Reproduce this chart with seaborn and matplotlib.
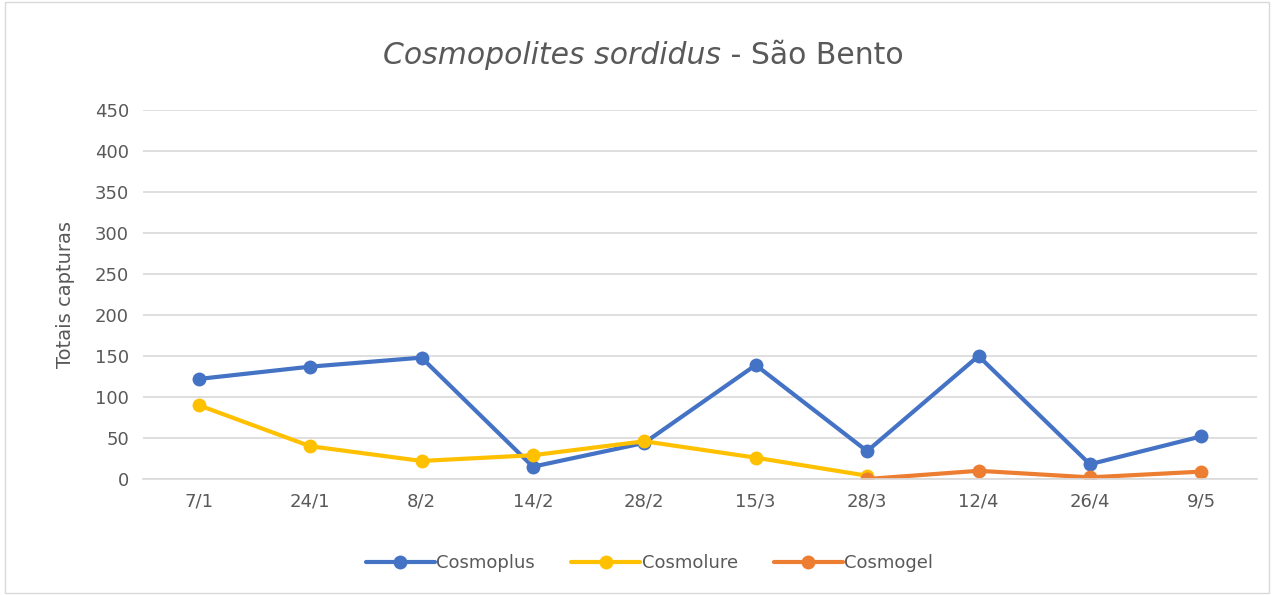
import matplotlib.pyplot as plt
import numpy as np
import pandas as pd
import seaborn as sns

dates = ['7/1', '24/1', '8/2', '14/2', '28/2', '15/3', '28/3', '12/4', '26/4', '9/5']
cosmoplus = [122, 137, 148, 15, 44, 139, 34, 150, 18, 52]
cosmolure = [90, 40, 22, 29, 46, 26, 4, np.nan, np.nan, np.nan]
cosmogel = [np.nan, np.nan, np.nan, np.nan, np.nan, np.nan, 0, 10, 2, 9]

series = {'Cosmoplus': cosmoplus, 'Cosmolure': cosmolure, 'Cosmogel': cosmogel}
colors = {'Cosmoplus': '#4472C4', 'Cosmolure': '#FFC000', 'Cosmogel': '#ED7D31'}

df = pd.concat([pd.DataFrame({'data': dates, 'valor': v, 'serie': k})
                for k, v in series.items()]).dropna()

sns.set_style('white')
fig = plt.figure(figsize=(12.74, 5.95), dpi=100)
ax = fig.add_axes([143 / 1274, 1 - 479 / 595, (1257 - 143) / 1274, (479 - 110) / 595])

sns.lineplot(data=df, x='data', y='valor', hue='serie', palette=colors,
             marker='o', markersize=10, markeredgewidth=0, linewidth=3,
             sort=False, ax=ax)

ax.set_xlim(-0.5, len(dates) - 0.5)
ax.set_ylim(0, 450)
ax.set_yticks(range(0, 451, 50))
ax.yaxis.grid(True, color='#D9D9D9', linewidth=1.2)
ax.set_axisbelow(True)
for s in ['top', 'right', 'left']:
    ax.spines[s].set_visible(False)
ax.spines['bottom'].set_color('#D9D9D9')
ax.spines['bottom'].set_linewidth(1.2)
ax.tick_params(axis='both', length=0, labelsize=13, labelcolor='#595959', pad=10)
ax.set_xlabel('')
ax.set_ylabel('Totais capturas', fontsize=14, color='#595959', labelpad=14)

# title: italic species name + plain location, centred on the figure
t1 = fig.text(0, 0, 'Cosmopolites sordidus', fontsize=21.5, style='italic', color='#595959')
t2 = fig.text(0, 0, ' - São Bento', fontsize=21.5, color='#595959')
fig.canvas.draw()
r = fig.canvas.get_renderer()
w1 = t1.get_window_extent(r).width / 1274
w2 = t2.get_window_extent(r).width / 1274
x0 = 0.5 - (w1 + w2) / 2 + 0.005
for t, x in [(t1, x0), (t2, x0 + w1)]:
    t.set_position((x, 1 - 55 / 595))
    t.set_va('center')

leg = ax.legend(loc='center', bbox_to_anchor=(0.51, 1 - 563 / 595),
                bbox_transform=fig.transFigure, ncol=3, frameon=False,
                fontsize=13, labelcolor='#595959', handlelength=3.8,
                columnspacing=2.0, handletextpad=0.1)

fig.patches.append(plt.Rectangle((0.004, 0.004), 0.992, 0.992, transform=fig.transFigure,
                                 fill=False, edgecolor='#D9D9D9', linewidth=1))

fig.savefig('out.png', dpi=100)
